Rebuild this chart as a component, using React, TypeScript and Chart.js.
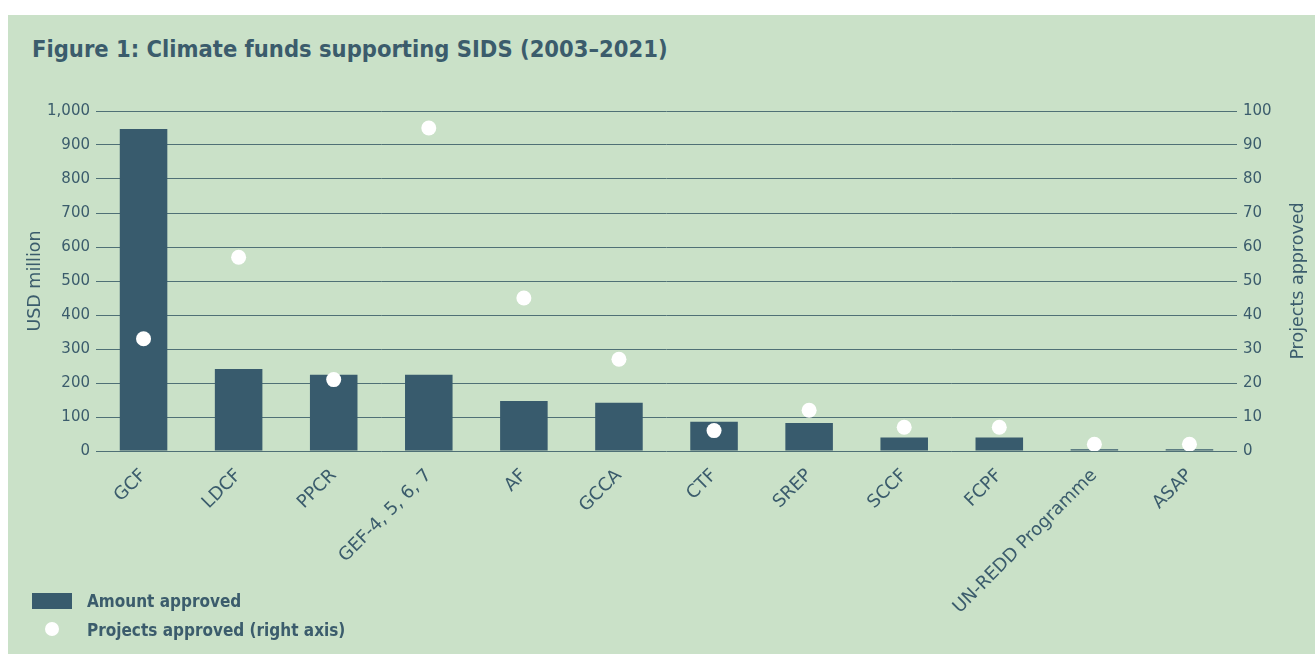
import React, { useEffect, useRef } from "react";
import { Chart, registerables } from "chart.js";

Chart.register(...registerables);

const categories = [
  "GCF",
  "LDCF",
  "PPCR",
  "GEF-4, 5, 6, 7",
  "AF",
  "GCCA",
  "CTF",
  "SREP",
  "SCCF",
  "FCPF",
  "UN-REDD Programme",
  "ASAP",
];
const amountApproved = [947, 241, 224, 224, 147, 142, 86, 82, 40, 40, 5, 5];
const projectsApproved = [33, 57, 21, 95, 45, 27, 6, 12, 7, 7, 2, 2];

const BG = "#cae1c8";
const DARK = "#385b6d";
const TEXT = "#3b5c6c";
const GRID = "#4f7076";

const axisTitlesPlugin = {
  id: "axisTitles",
  afterDraw(chart: any) {
    const ctx = chart.ctx;
    ctx.save();
    ctx.fillStyle = TEXT;
    ctx.font = "17.5px 'DejaVu Sans'";
    ctx.textAlign = "center";
    ctx.textBaseline = "middle";
    const midY = (chart.chartArea.top + chart.chartArea.bottom) / 2;
    ctx.save();
    ctx.translate(27, midY);
    ctx.rotate(-Math.PI / 2);
    ctx.fillText("USD million", 0, 0);
    ctx.restore();
    ctx.save();
    ctx.translate(1290, midY);
    ctx.rotate(-Math.PI / 2);
    ctx.fillText("Projects approved", 0, 0);
    ctx.restore();
    ctx.restore();
  },
};

export default function App() {
  const canvasRef = useRef<HTMLCanvasElement | null>(null);

  useEffect(() => {
    if (!canvasRef.current) return;
    const tickFont = { family: "'DejaVu Sans'", size: 15 };
    const chart = new Chart(canvasRef.current, {
      type: "bar",
      data: {
        labels: categories,
        datasets: [
          {
            type: "line",
            label: "Projects approved (right axis)",
            data: projectsApproved,
            yAxisID: "y2",
            showLine: false,
            pointRadius: 7.5,
            pointHoverRadius: 7.5,
            pointBackgroundColor: "#ffffff",
            pointBorderWidth: 0,
            borderColor: "#ffffff",
            backgroundColor: "#ffffff",
            order: 0,
          } as any,
          {
            type: "bar",
            label: "Amount approved",
            data: amountApproved,
            yAxisID: "y",
            backgroundColor: DARK,
            borderWidth: 0,
            categoryPercentage: 0.5,
            barPercentage: 1,
            order: 1,
          },
        ],
      },
      options: {
        animation: false,
        responsive: false,
        maintainAspectRatio: false,
        layout: { padding: { top: 21, left: 0, right: 0, bottom: 0 } },
        plugins: {
          legend: { display: false },
          tooltip: { enabled: false },
          title: { display: false },
        },
        scales: {
          x: {
            grid: { display: false },
            border: { display: false },
            ticks: {
              color: TEXT,
              font: { family: "'DejaVu Sans'", size: 18 },
              minRotation: 45,
              maxRotation: 45,
              padding: 6,
              autoSkip: false,
            },
            afterFit(scale: any) {
              scale.height = 179;
            },
          },
          y: {
            position: "left",
            min: 0,
            max: 1000,
            border: { display: false },
            grid: { color: GRID, lineWidth: 1, drawTicks: false },
            ticks: {
              stepSize: 100,
              color: TEXT,
              font: tickFont,
              padding: 6,
              callback: (v: any) => Number(v).toLocaleString("en-US"),
            },
            afterFit(scale: any) {
              scale.width = 88;
            },
          },
          y2: {
            position: "right",
            min: 0,
            max: 100,
            border: { display: false },
            grid: { display: false, drawTicks: false },
            ticks: {
              stepSize: 10,
              color: TEXT,
              font: tickFont,
              padding: 6,
            },
            afterFit(scale: any) {
              scale.width = 78;
            },
          },
        },
      },
      plugins: [axisTitlesPlugin],
    });
    return () => chart.destroy();
  }, []);

  const legendText: React.CSSProperties = {
    position: "absolute",
    left: 79,
    fontFamily: "'DejaVu Sans Condensed'",
    fontWeight: "bold",
    fontSize: 17,
    color: TEXT,
    lineHeight: "20px",
    whiteSpace: "nowrap",
  };

  return (
    <div
      style={{
        position: "absolute",
        left: 8,
        top: 15,
        width: 1307,
        height: 639,
        background: BG,
        overflow: "hidden",
      }}
    >
      <div
        style={{
          position: "absolute",
          left: 24,
          top: 19,
          fontFamily: "'DejaVu Sans Condensed'",
          fontWeight: "bold",
          fontSize: 23.5,
          lineHeight: "30px",
          color: TEXT,
          whiteSpace: "nowrap",
        }}
      >
        Figure 1: Climate funds supporting SIDS (2003–2021)
      </div>
      <canvas
        ref={canvasRef}
        width={1307}
        height={540}
        style={{ position: "absolute", left: 0, top: 75, width: 1307, height: 540 }}
      />
      <div
        style={{
          position: "absolute",
          left: 24,
          top: 578,
          width: 40,
          height: 16,
          background: DARK,
        }}
      />
      <div style={{ ...legendText, top: 576 }}>Amount approved</div>
      <div
        style={{
          position: "absolute",
          left: 37,
          top: 607,
          width: 14,
          height: 14,
          borderRadius: "50%",
          background: "#ffffff",
        }}
      />
      <div style={{ ...legendText, top: 605 }}>Projects approved (right axis)</div>
    </div>
  );
}
